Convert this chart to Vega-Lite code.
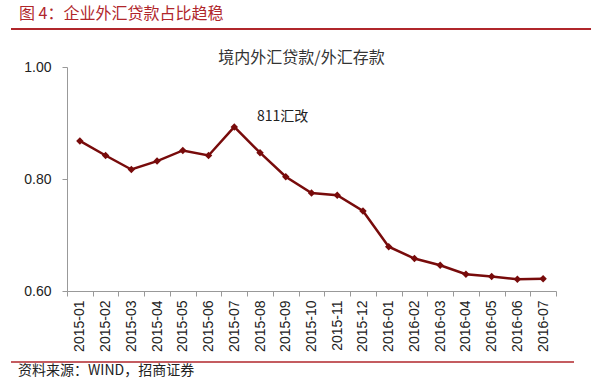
{
  "$schema": "https://vega.github.io/schema/vega-lite/v6.json",
  "background": "white",
  "padding": {"left": 10, "top": 6, "right": 8, "bottom": 2},
  "config": {
    "view": {"stroke": null},
    "font": "Liberation Sans"
  },
  "spacing": 0,
  "vconcat": [
    {
      "width": 489,
      "height": 21,
      "title": {
        "text": "图 4：企业外汇贷款占比趋稳",
        "anchor": "start",
        "frame": "group",
        "dx": -48,
        "offset": 6,
        "font": "Noto Sans CJK SC",
        "fontSize": 16,
        "fontWeight": "normal",
        "color": "#B0262B"
      },
      "data": {"values": [{"x0": -0.1145, "x1": 1.0716, "y": 1}]},
      "mark": {"type": "rule", "color": "#B0262B", "strokeWidth": 2},
      "encoding": {
        "x": {"field": "x0", "type": "quantitative", "scale": {"domain": [0, 1]}, "axis": null},
        "x2": {"field": "x1"},
        "y": {"field": "y", "type": "quantitative", "scale": {"domain": [0, 1]}, "axis": null}
      }
    },
    {
      "width": 489,
      "height": 224,
      "title": {
        "text": "境内外汇贷款/外汇存款",
        "anchor": "middle",
        "dx": -10,
        "font": "Noto Sans CJK SC",
        "fontSize": 16,
        "fontWeight": "normal",
        "color": "#333333",
        "offset": -6
      },
      "data": {
        "values": [
          {"month": "2015-01", "ratio": 0.868},
          {"month": "2015-02", "ratio": 0.842},
          {"month": "2015-03", "ratio": 0.817},
          {"month": "2015-04", "ratio": 0.832},
          {"month": "2015-05", "ratio": 0.851},
          {"month": "2015-06", "ratio": 0.842},
          {"month": "2015-07", "ratio": 0.893},
          {"month": "2015-08", "ratio": 0.847},
          {"month": "2015-09", "ratio": 0.804},
          {"month": "2015-10", "ratio": 0.775},
          {"month": "2015-11", "ratio": 0.771},
          {"month": "2015-12", "ratio": 0.743},
          {"month": "2016-01", "ratio": 0.679},
          {"month": "2016-02", "ratio": 0.658},
          {"month": "2016-03", "ratio": 0.646},
          {"month": "2016-04", "ratio": 0.630},
          {"month": "2016-05", "ratio": 0.626},
          {"month": "2016-06", "ratio": 0.621},
          {"month": "2016-07", "ratio": 0.622}
        ]
      },
      "layer": [
        {
          "mark": {"type": "line", "color": "#780B0B", "strokeWidth": 2.5},
          "encoding": {
            "x": {
              "field": "month",
              "type": "ordinal",
              "scale": {"type": "band", "paddingInner": 0, "paddingOuter": 0},
              "axis": {
                "title": null,
                "labelAngle": -90,
                "labelAlign": "right",
                "labelBaseline": "middle",
                "labelFontSize": 14,
                "labelColor": "#222222",
                "labelPadding": 4,
                "tickBand": "extent",
                "tickSize": 5,
                "tickColor": "#999999",
                "domainColor": "#999999",
                "grid": false
              }
            },
            "y": {
              "field": "ratio",
              "type": "quantitative",
              "scale": {"domain": [0.6, 1.0], "zero": false},
              "axis": {
                "title": null,
                "values": [0.6, 0.8, 1.0],
                "format": ".2f",
                "labelFontSize": 14,
                "labelColor": "#222222",
                "labelPadding": 11,
                "tickSize": 5,
                "tickColor": "#999999",
                "domainColor": "#999999",
                "grid": false
              }
            }
          }
        },
        {
          "mark": {"type": "point", "shape": "diamond", "filled": true, "color": "#780B0B", "size": 55, "opacity": 1},
          "encoding": {
            "x": {"field": "month", "type": "ordinal"},
            "y": {"field": "ratio", "type": "quantitative"}
          }
        },
        {
          "data": {"values": [{"month": "2015-08", "y": 0.911, "label": "811汇改"}]},
          "mark": {"type": "text", "align": "left", "baseline": "middle", "dx": -3, "fontSize": 14, "font": "Noto Sans CJK SC", "color": "#222222"},
          "encoding": {
            "x": {"field": "month", "type": "ordinal"},
            "y": {"field": "y", "type": "quantitative"},
            "text": {"field": "label"}
          }
        }
      ]
    },
    {
      "width": 489,
      "height": 10,
      "title": {
        "text": "资料来源：WIND，招商证券",
        "orient": "bottom",
        "anchor": "start",
        "frame": "group",
        "dx": -49,
        "offset": 1,
        "font": "Noto Sans CJK SC",
        "fontSize": 14,
        "fontWeight": "normal",
        "color": "#222222"
      },
      "data": {"values": [{"x0": -0.1145, "x1": 1.0368, "y": 0}]},
      "mark": {"type": "rule", "color": "#B0262B", "strokeWidth": 1.5},
      "encoding": {
        "x": {"field": "x0", "type": "quantitative", "scale": {"domain": [0, 1]}, "axis": null},
        "x2": {"field": "x1"},
        "y": {"field": "y", "type": "quantitative", "scale": {"domain": [0, 1]}, "axis": null}
      }
    }
  ]
}
